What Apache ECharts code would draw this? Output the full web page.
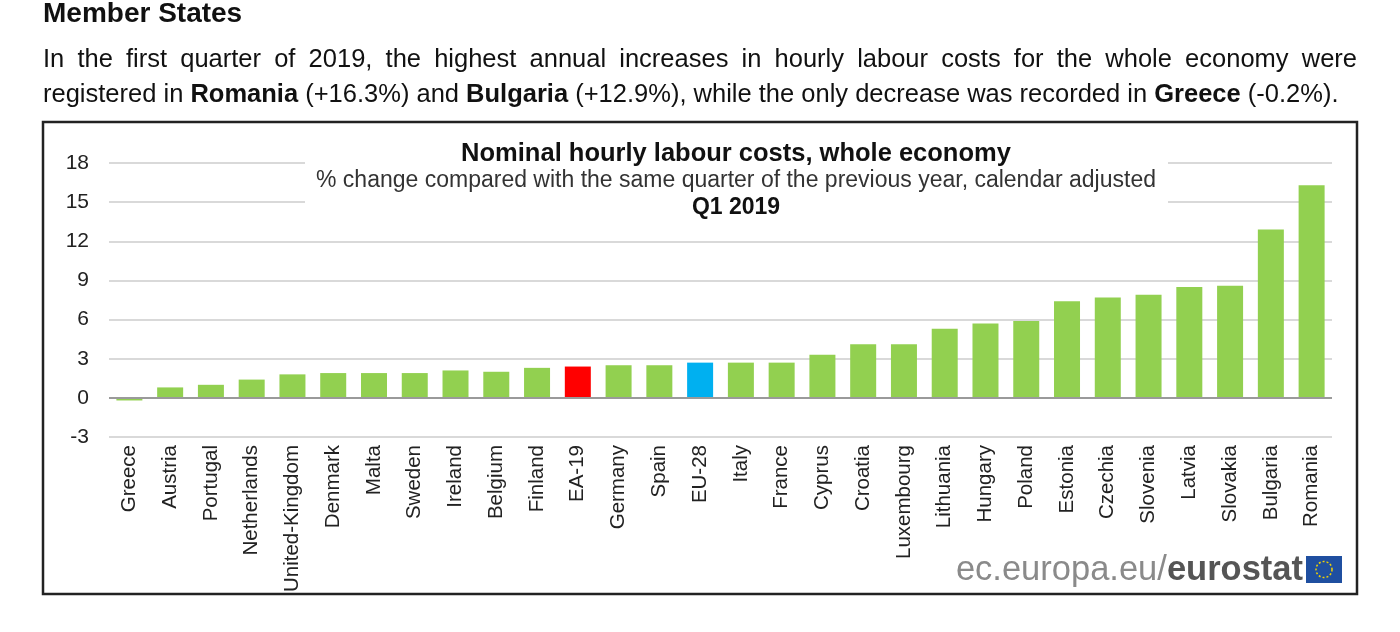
<!DOCTYPE html>
<html>
<head>
<meta charset="utf-8">
<script src="https://cdn.jsdelivr.net/npm/echarts@6/dist/echarts.min.js"></script>
<style>
  html, body { margin: 0; padding: 0; background: #fff; }
  #wrap { position: relative; width: 1400px; height: 632px; overflow: hidden; font-family: "Liberation Sans", Arial, sans-serif; color: #111; }
  #chart { position: absolute; left: 0; top: 0; width: 1400px; height: 632px; }
  .txt { position: absolute; left: 43px; width: 1314px; font-size: 25.5px; line-height: 28px; white-space: nowrap; z-index: 2; }
  #h { top: -3px; font-weight: bold; font-size: 28px; line-height: 32px; }
  #p1 { top: 44px; text-align: justify; text-align-last: justify; white-space: normal; }
  #p2 { top: 79px; }
</style>
</head>
<body>
<div id="wrap">
  <div id="chart"></div>
  <div class="txt" id="h">Member States</div>
  <div class="txt" id="p1">In the first quarter of 2019, the highest annual increases in hourly labour costs for the whole economy were</div>
  <div class="txt" id="p2">registered in <b>Romania</b> (+16.3%) and <b>Bulgaria</b> (+12.9%), while the only decrease was recorded in <b>Greece</b> (-0.2%).</div>
</div>
<script>
const categories = ["Greece","Austria","Portugal","Netherlands","United-Kingdom","Denmark","Malta","Sweden","Ireland","Belgium","Finland","EA-19","Germany","Spain","EU-28","Italy","France","Cyprus","Croatia","Luxembourg","Lithuania","Hungary","Poland","Estonia","Czechia","Slovenia","Latvia","Slovakia","Bulgaria","Romania"];
const values = [-0.2,0.8,1.0,1.4,1.8,1.9,1.9,1.9,2.1,2.0,2.3,2.4,2.5,2.5,2.7,2.7,2.7,3.3,4.1,4.1,5.3,5.7,5.9,7.4,7.7,7.9,8.5,8.6,12.9,16.3];
const yMin = -3, yMax = 18, yStep = 3;
const titleText = "Nominal hourly labour costs, whole economy";
const subText = "% change compared with the same quarter of the previous year, calendar adjusted";
const periodText = "Q1 2019";

const chart = echarts.init(document.getElementById('chart'), null, {renderer: 'canvas'});
const FONT = '"Liberation Sans", Arial, sans-serif';
chart.setOption({
  animation: false,
  backgroundColor: '#fff',
  grid: { left: 109, right: 68, top: 163, bottom: 195 },
  xAxis: {
    type: 'category',
    data: categories,
    axisLine: { show: false, onZero: false },
    axisTick: { show: false },
    axisLabel: { rotate: 90, interval: 0, fontSize: 20.5, color: '#222', fontFamily: FONT, margin: 8 }
  },
  yAxis: {
    type: 'value',
    min: yMin, max: yMax, interval: yStep,
    axisLine: { show: false },
    axisTick: { show: false },
    axisLabel: { fontSize: 21, color: '#222', fontFamily: FONT, margin: 20 },
    splitLine: { lineStyle: { color: '#d9d9d9', width: 2 } }
  },
  series: [{
    type: 'bar',
    data: values,
    barWidth: 26,
    itemStyle: {
      color: function (p) {
        if (p.name === 'EA-19') return '#ff0000';
        if (p.name === 'EU-28') return '#00b0f0';
        return '#92d050';
      }
    },
    markLine: {
      silent: true,
      symbol: 'none',
      label: { show: false },
      lineStyle: { color: '#9a9a9a', width: 2, type: 'solid' },
      data: [{ yAxis: 0 }]
    },
    z: 3
  }],
  graphic: [
    { type: 'rect', shape: { x: 43, y: 122, width: 1314, height: 472 }, style: { fill: 'none', stroke: '#222', lineWidth: 2.5 }, z: 10 },
    { type: 'rect', shape: { x: 305, y: 138, width: 863, height: 80 }, style: { fill: '#fff' }, z: 5 },
    { type: 'text', x: 736, y: 154, style: { text: titleText, font: 'bold 25.5px ' + FONT, fill: '#111', textAlign: 'center', textVerticalAlign: 'middle' }, z: 6 },
    { type: 'text', x: 736, y: 181, style: { text: subText, font: '23px ' + FONT, fill: '#333', textAlign: 'center', textVerticalAlign: 'middle' }, z: 6 },
    { type: 'text', x: 736, y: 208, style: { text: periodText, font: 'bold 23px ' + FONT, fill: '#111', textAlign: 'center', textVerticalAlign: 'middle' }, z: 6 },
    { type: 'text', x: 1303, y: 570, style: {
        text: '{a|ec.europa.eu/}{b|eurostat}',
        textAlign: 'right', textVerticalAlign: 'middle',
        rich: {
          a: { font: '34.5px ' + FONT, fill: '#8a8a8a' },
          b: { font: 'bold 34.5px ' + FONT, fill: '#555' }
        }
      }, z: 6 },
    { type: 'rect', shape: { x: 1306, y: 556, width: 36, height: 27 }, style: { fill: '#1f4fa0' }, z: 6 },
    { type: 'circle', shape: { cx: 1324, cy: 569.5, r: 8 }, style: { fill: 'none', stroke: '#f3d400', lineWidth: 1.5, lineDash: [2, 2] }, z: 7 }
  ]
});
</script>
</body>
</html>
